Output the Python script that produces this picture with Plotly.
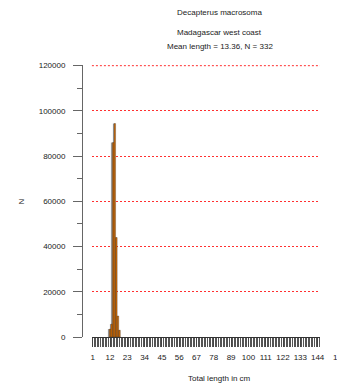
import plotly.graph_objects as go

# Length-frequency data
lengths = [12, 13, 14, 15, 16, 17, 18]
counts = [3500, 5700, 86000, 94400, 44000, 9300, 3000]

x_tick_vals = [1, 12, 23, 34, 45, 56, 67, 78, 89, 100, 111, 122, 133, 144]
y_tick_vals = [0, 20000, 40000, 60000, 80000, 100000, 120000]

species = "Decapterus macrosoma"
region = "Madagascar west coast"
summary = "Mean length = 13.36, N = 332"
x_title = "Total length in cm"
y_title = "N"

FONT = "Liberation Sans, Arial, sans-serif"
TXT = "#222222"
GRID = "#ff3030"

W, H = 337, 390
ML, MR, MT, MB = 82, 15, 65, 53
plot_w = W - ML - MR
plot_h = H - MT - MB
x_lo, x_hi = 0.5, 145.5
y_lo, y_hi = 0, 120300
d0 = 10 / plot_w  # gap between y-axis line and bar area


def px_x(px):
    return (px - ML) / plot_w


def px_y(py):
    return (H - MB - py) / plot_h


fig = go.Figure()

# gray drop shadow behind each bar
fig.add_trace(go.Bar(
    x=lengths, y=counts, width=0.8, offset=-0.8,
    marker=dict(color="#999999", line=dict(width=0)),
    hoverinfo="skip", showlegend=False,
))
# orange bars with dark outline
fig.add_trace(go.Bar(
    x=lengths, y=counts, width=0.95, offset=-0.4,
    marker=dict(color="#d26a00", line=dict(color="#222222", width=0.3)),
    showlegend=False,
))

fig.update_layout(
    width=W, height=H,
    margin=dict(l=ML, r=MR, t=MT, b=MB, pad=0),
    paper_bgcolor="white", plot_bgcolor="white",
    barmode="overlay",
    font=dict(family=FONT, size=8, color=TXT),
    xaxis=dict(
        domain=[d0, 1], range=[x_lo, x_hi],
        tickmode="array", tickvals=x_tick_vals,
        ticks="outside", ticklen=9, tickwidth=1, tickcolor="#444444",
        minor=dict(dtick=1, tick0=1, ticks="outside", ticklen=9,
                   tickwidth=1, tickcolor="#555555", showgrid=False),
        showline=True, linecolor="#333333", linewidth=1,
        showgrid=False, zeroline=False, ticklabelstandoff=3,
        tickfont=dict(family=FONT, size=8, color=TXT),
    ),
    yaxis=dict(
        anchor="free", position=0, range=[y_lo, y_hi],
        tickmode="array", tickvals=y_tick_vals, tickformat="d",
        ticks="outside", ticklen=9, tickwidth=1, tickcolor="#666666",
        minor=dict(dtick=10000, ticks="outside", ticklen=5,
                   tickwidth=1, tickcolor="#666666", showgrid=False),
        showline=True, linecolor="#666666", linewidth=1,
        showgrid=True, gridcolor=GRID, gridwidth=1, griddash="2px,2px",
        zeroline=False, ticklabelstandoff=6,
        tickfont=dict(family=FONT, size=8, color=TXT),
    ),
)

# top grid line sits at the range edge, so draw it explicitly
fig.add_shape(
    type="line", xref="paper", yref="y",
    x0=d0, x1=1, y0=y_tick_vals[-1], y1=y_tick_vals[-1],
    line=dict(color=GRID, width=1, dash="2px,2px"), layer="below",
)

# cut-off last tick label past the right edge
edge_val = 155
fig.add_annotation(
    x=px_x(342), y=px_y(357),
    xref="paper", yref="paper", text=str(edge_val), showarrow=False,
    xanchor="center", yanchor="middle",
    font=dict(family=FONT, size=8, color=TXT),
)

cx = px_x(221)
for text, py in [(species, 12), (region, 32), (summary, 46), (x_title, 378)]:
    fig.add_annotation(
        x=cx, y=px_y(py), xref="paper", yref="paper", text=text,
        showarrow=False, xanchor="center", yanchor="middle",
        font=dict(family=FONT, size=8, color=TXT),
    )

fig.add_annotation(
    x=px_x(20), y=px_y(202), xref="paper", yref="paper", text=y_title,
    textangle=-90, showarrow=False, xanchor="center", yanchor="middle",
    font=dict(family=FONT, size=8, color=TXT),
)

fig.write_html("out.html")
